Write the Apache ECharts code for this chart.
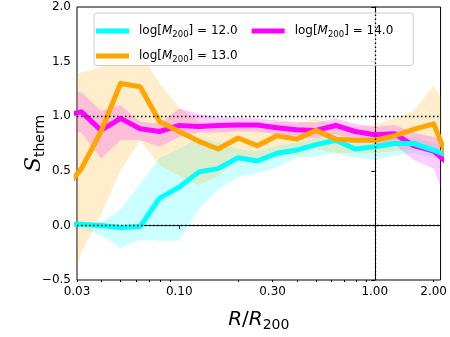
<!DOCTYPE html>
<html>
<head>
<meta charset="utf-8">
<script src="https://cdn.jsdelivr.net/npm/echarts@6/dist/echarts.min.js"></script>
<style>
html, body { margin: 0; padding: 0; background: #fff; }
#chart { width: 450px; height: 337px; }
</style>
</head>
<body>
<div id="chart"></div>
<script>
// radius bins, R/R200 (0.1 dex apart)
var radius = [0.0251, 0.0316, 0.0398, 0.0501, 0.0631, 0.0794, 0.1, 0.126, 0.158, 0.2, 0.251,
              0.316, 0.398, 0.501, 0.631, 0.794, 1.0, 1.26, 1.58, 2.0, 2.51];

// log[M200] = 12.0
var m12 = [0.01, 0.01, 0.00, -0.02, -0.01, 0.25, 0.35, 0.49, 0.52, 0.62, 0.59,
           0.66, 0.69, 0.74, 0.78, 0.70, 0.72, 0.75, 0.75, 0.69, 0.62];
var m12lo = [-0.02, -0.03, -0.09, -0.21, -0.13, -0.14, -0.14, 0.15, 0.33, 0.44, 0.48,
             0.53, 0.62, 0.63, 0.66, 0.62, 0.60, 0.64, 0.66, 0.62, 0.56];
var m12hi = [0.03, 0.03, 0.02, 0.15, 0.38, 0.62, 0.70, 0.81, 0.76, 0.70, 0.68,
             0.73, 0.76, 0.80, 0.85, 0.78, 0.80, 0.82, 0.80, 0.76, 0.70];

// log[M200] = 13.0
var m13 = [0.30, 0.52, 0.86, 1.30, 1.27, 0.95, 0.86, 0.77, 0.70, 0.80, 0.73,
           0.82, 0.79, 0.87, 0.79, 0.78, 0.78, 0.82, 0.88, 0.93, 0.50];
var m13lo = [-0.90, -0.25, 0.10, 0.50, 0.78, 0.55, 0.45, 0.37, 0.45, 0.62, 0.60,
             0.66, 0.64, 0.70, 0.66, 0.66, 0.66, 0.68, 0.70, 0.72, 0.40];
var m13hi = [1.30, 1.40, 1.45, 1.76, 1.58, 1.30, 1.08, 0.95, 0.93, 0.93, 0.90,
             0.95, 0.93, 0.98, 0.92, 0.90, 0.92, 0.98, 1.05, 1.28, 1.00];

// log[M200] = 14.0
var m14 = [1.00, 1.04, 0.87, 0.98, 0.885, 0.86, 0.915, 0.905, 0.915, 0.92, 0.92,
           0.895, 0.875, 0.87, 0.915, 0.86, 0.83, 0.84, 0.73, 0.68, 0.53];
var m14lo = [0.85, 0.85, 0.61, 0.78, 0.78, 0.72, 0.81, 0.85, 0.85, 0.86, 0.86,
             0.83, 0.81, 0.80, 0.84, 0.78, 0.75, 0.74, 0.60, 0.52, 0.05];
var m14hi = [1.22, 1.22, 1.05, 1.10, 0.95, 0.93, 1.07, 1.02, 0.99, 0.99, 0.98,
             0.96, 0.95, 0.94, 0.98, 0.93, 0.90, 0.92, 0.85, 0.81, 0.75];

var xLabels = [0.03, 0.1, 0.3, 1, 2];
var xMajor = [0.1, 1];
var xMinor = [0.03, 0.04, 0.05, 0.06, 0.07, 0.08, 0.09, 0.2, 0.3, 0.4, 0.5, 0.6, 0.7, 0.8, 0.9, 2];
var xMin = 0.03, xMax = 2.17;

var font = 'DejaVu Sans';
var lg = function (v) { return Math.log10(v); };

function pairs(vals) {
    return vals.map(function (v, i) { return [lg(radius[i]), v]; });
}

// shaded band between lo and hi, drawn as one polygon through the axes
function band(key, lo, hi, color) {
    return {
        name: key, type: 'custom', z: 1, silent: true, clip: true,
        data: lo.map(function (v, i) { return [lg(radius[i]), v, hi[i]]; }),
        encode: { x: 0, y: [1, 2] },
        renderItem: function (params, api) {
            if (params.dataIndex !== 0) return;
            var pts = [], i;
            for (i = 0; i < hi.length; i++) pts.push(api.coord([lg(radius[i]), hi[i]]));
            for (i = lo.length - 1; i >= 0; i--) pts.push(api.coord([lg(radius[i]), lo[i]]));
            var cs = params.coordSys;
            return {
                type: 'polygon',
                shape: { points: pts },
                style: { fill: color, opacity: 0.2 },
                clipPath: { type: 'rect', shape: { x: cs.x, y: cs.y, width: cs.width, height: cs.height } }
            };
        }
    };
}

function line(name, vals, color) {
    return {
        name: name, type: 'line', data: pairs(vals), symbol: 'none', color: color, z: 3,
        lineStyle: { width: 5, color: color, join: 'round' }
    };
}

var rich = {
    n: { fontFamily: font, fontSize: 12, lineHeight: 17, color: '#000' },
    i: { fontFamily: font, fontSize: 12, lineHeight: 17, fontStyle: 'italic', color: '#000' },
    s: { fontFamily: font, fontSize: 8.5, lineHeight: 9, verticalAlign: 'bottom', color: '#000' }
};
var legendFmt = function (name) {
    return '{n|log[}{i|M}{s|200}{n|] = ' + name + '}';
};

var myChart = echarts.init(document.getElementById('chart'));
var series = [
    band('b12', m12lo, m12hi, '#00ffff'),
    band('b13', m13lo, m13hi, '#ffa500'),
    band('b14', m14lo, m14hi, '#ff00ff'),
    {
        name: 'ref', type: 'line', data: [], z: 2, silent: true,
        markLine: {
            symbol: 'none', silent: true, label: { show: false },
            lineStyle: { color: '#000', type: [1.5, 2.5], width: 1.3 },
            data: [{ yAxis: 0 }, { yAxis: 1 }, { xAxis: 0 }]
        }
    },
    line('14.0', m14, '#ff00ff'),
    line('12.0', m12, '#00ffff'),
    line('13.0', m13, '#ffa500')
];

var option = {
    animation: false,
    textStyle: { fontFamily: font },
    grid: {
        left: 77, right: 8, top: 7, bottom: 57,
        show: true, borderColor: '#000', borderWidth: 1, backgroundColor: 'transparent'
    },
    legend: [{
        data: ['12.0', '14.0'],
        left: 94, top: 13,
        padding: [12, 20, 26, 2],
        itemGap: 14, itemWidth: 33, itemHeight: 5, icon: 'rect',
        backgroundColor: 'rgba(255,255,255,0.8)',
        borderColor: '#cccccc', borderWidth: 1, borderRadius: 3,
        formatter: legendFmt,
        textStyle: { rich: rich, padding: [0, 0, 0, 5] },
        z: 4
    }, {
        data: ['13.0'],
        left: 96, top: 50, padding: 0,
        itemWidth: 33, itemHeight: 5, icon: 'rect',
        formatter: legendFmt,
        textStyle: { rich: rich, padding: [0, 0, 0, 5] },
        z: 5
    }],
    xAxis: [{
        type: 'value', min: lg(xMin), max: lg(xMax),
        name: '{i|R}{n|/}{i|R}{s|200}',
        nameLocation: 'middle', nameGap: 28,
        nameTextStyle: {
            rich: {
                i: { fontFamily: font, fontSize: 20, fontStyle: 'italic', lineHeight: 24, color: '#000' },
                n: { fontFamily: font, fontSize: 20, lineHeight: 24, color: '#000' },
                s: { fontFamily: font, fontSize: 14, lineHeight: 14, verticalAlign: 'bottom', color: '#000' }
            }
        },
        axisLine: { lineStyle: { color: '#000', width: 1 } },
        axisTick: { customValues: xMajor.map(lg), length: 3.5, lineStyle: { color: '#000' } },
        axisLabel: {
            customValues: xLabels.map(lg), margin: 6,
            color: '#000', fontSize: 12, fontFamily: font,
            formatter: function (v) { return Math.pow(10, v).toFixed(2); }
        },
        splitLine: { show: false }
    }, {
        type: 'value', min: lg(xMin), max: lg(xMax), position: 'bottom',
        axisLine: { show: false },
        axisTick: { customValues: xMinor.map(lg), length: 2, lineStyle: { color: '#000' } },
        axisLabel: { show: false },
        splitLine: { show: false }
    }],
    yAxis: {
        type: 'value', min: -0.5, max: 2, interval: 0.5,
        name: '{S|S}{t|therm}',
        nameLocation: 'middle', nameRotate: 90, nameGap: 30, nameMoveOverlap: false,
        nameTextStyle: {
            rich: {
                S: { fontFamily: 'DejaVu Serif', fontSize: 22, fontStyle: 'italic', lineHeight: 26, color: '#000' },
                t: { fontFamily: font, fontSize: 14, lineHeight: 16, verticalAlign: 'bottom', color: '#000' }
            }
        },
        axisLine: { show: true, lineStyle: { color: '#000', width: 1 } },
        axisTick: { show: true, length: 3.5, lineStyle: { color: '#000' } },
        axisLabel: {
            color: '#000', fontSize: 12, fontFamily: font, margin: 6,
            formatter: function (v) { return v.toFixed(1).replace('-', '\u2212'); }
        },
        splitLine: { show: false }
    },
    series: series
};

myChart.setOption(option);
window.addEventListener('resize', function () {
    myChart.resize();
});
</script>
</body>
</html>
